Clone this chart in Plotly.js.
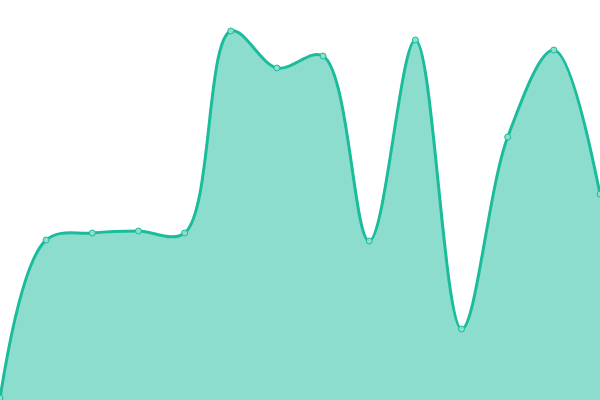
<!DOCTYPE html>
<html>
<head>
<meta charset="utf-8">
<script src="https://cdn.plot.ly/plotly-3.0.1.min.js"></script>
<style>
  html, body { margin: 0; padding: 0; background: #fff; }
  #plot { width: 600px; height: 400px; }
</style>
</head>
<body>
<div id="plot"></div>
<script>
//Point positions along the x axis and their values
var steps = [0, 1, 2, 3, 4, 5, 6, 7, 8, 9, 10, 11, 12, 13];
var values = [2, 160, 167, 169, 167, 369, 332, 344, 159, 360, 71, 263, 350, 206];

//Smooth filled area with small round markers
var area = {
    x: steps,
    y: values,
    type: 'scatter',
    mode: 'lines+markers',
    fill: 'tozeroy',
    fillcolor: 'rgba(26, 188, 156, 0.5)',
    line: {
        color: '#1abc9c',
        width: 3,
        shape: 'spline'
    },
    marker: {
        size: 6,
        color: '#8cdfcf',
        line: { color: '#1abc9c', width: 1 }
    },
    hoverinfo: 'none'
};

//No axes, no margins, the area fills the whole picture
var layout = {
    width: 600,
    height: 400,
    margin: { l: 0, r: 0, t: 0, b: 0 },
    showlegend: false,
    paper_bgcolor: '#fff',
    plot_bgcolor: '#fff',
    xaxis: { range: [0, 13], visible: false, fixedrange: true },
    yaxis: { range: [0, 400], visible: false, fixedrange: true }
};

Plotly.newPlot('plot', [area], layout, { staticPlot: true });
</script>
</body>
</html>
